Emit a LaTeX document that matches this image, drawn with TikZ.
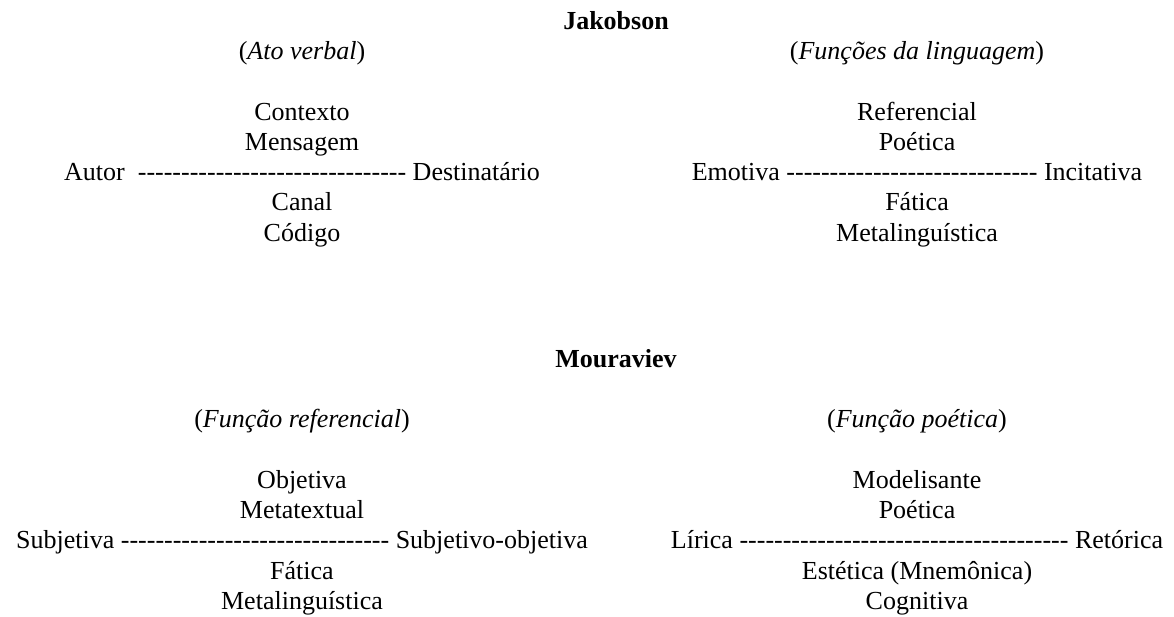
\documentclass[tikz,border=0pt]{standalone}
\usepackage{fontspec}
\setmainfont{Liberation Serif}[Ligatures=TeXOff]
\begin{document}
\begin{tikzpicture}[x=1pt,y=-1pt,
  txt/.style={inner sep=0pt, outer sep=0pt, anchor=base, font=\fontsize{26}{30}\selectfont},
  title/.style={txt, font=\fontsize{26}{30}\selectfont\bfseries}]
\fill[white] (0,0) rectangle (1174,616);
\useasboundingbox (0,0) rectangle (1174,616);
% ---------------- Jakobson ----------------
\node[title] (jak) at (616,29) {Jakobson};
\node[txt] (atoverbal) at (302,59.4) {(\textit{Ato verbal})};
\node[txt] (funcoes) at (917,59.4) {(\textit{Funções da linguagem})};
\node[txt] (contexto) at (302,120) {Contexto};
\node[txt] (mensagem) at (302,150.3) {Mensagem};
\node[txt] (autor) at (302,180.6) {Autor\ \ ------------------------------- Destinatário};
\node[txt] (canal) at (302,210.9) {Canal};
\node[txt] (codigo) at (302,241.2) {Código};
\node[txt] (referencial) at (917,120) {Referencial};
\node[txt] (poetica) at (917,150.3) {Poética};
\node[txt] (emotiva) at (917,180.6) {Emotiva ----------------------------- Incitativa};
\node[txt] (fatica) at (917,210.9) {Fática};
\node[txt] (metaling) at (917,241.2) {Metalinguística};
% ---------------- Mouraviev ----------------
\node[title] (mou) at (616,367) {Mouraviev};
\node[txt] (funcref) at (302,427.6) {(\textit{Função referencial})};
\node[txt] (funcpoet) at (917,427.6) {(\textit{Função poética})};
\node[txt] (objetiva) at (302,488) {Objetiva};
\node[txt] (metatextual) at (302,518.5) {Metatextual};
\node[txt] (subjetiva) at (302,548.8) {Subjetiva ------------------------------- Subjetivo-objetiva};
\node[txt] (fatica2) at (302,579) {Fática};
\node[txt] (metaling2) at (302,609.4) {Metalinguística};
\node[txt] (modelisante) at (917,488) {Modelisante};
\node[txt] (poetica2) at (917,518.5) {Poética};
\node[txt] (lirica) at (917,548.8) {Lírica -------------------------------------- Retórica};
\node[txt] (estetica) at (917,579) {Estética (Mnemônica)};
\node[txt] (cognitiva) at (917,609.4) {Cognitiva};
\end{tikzpicture}
\end{document}
